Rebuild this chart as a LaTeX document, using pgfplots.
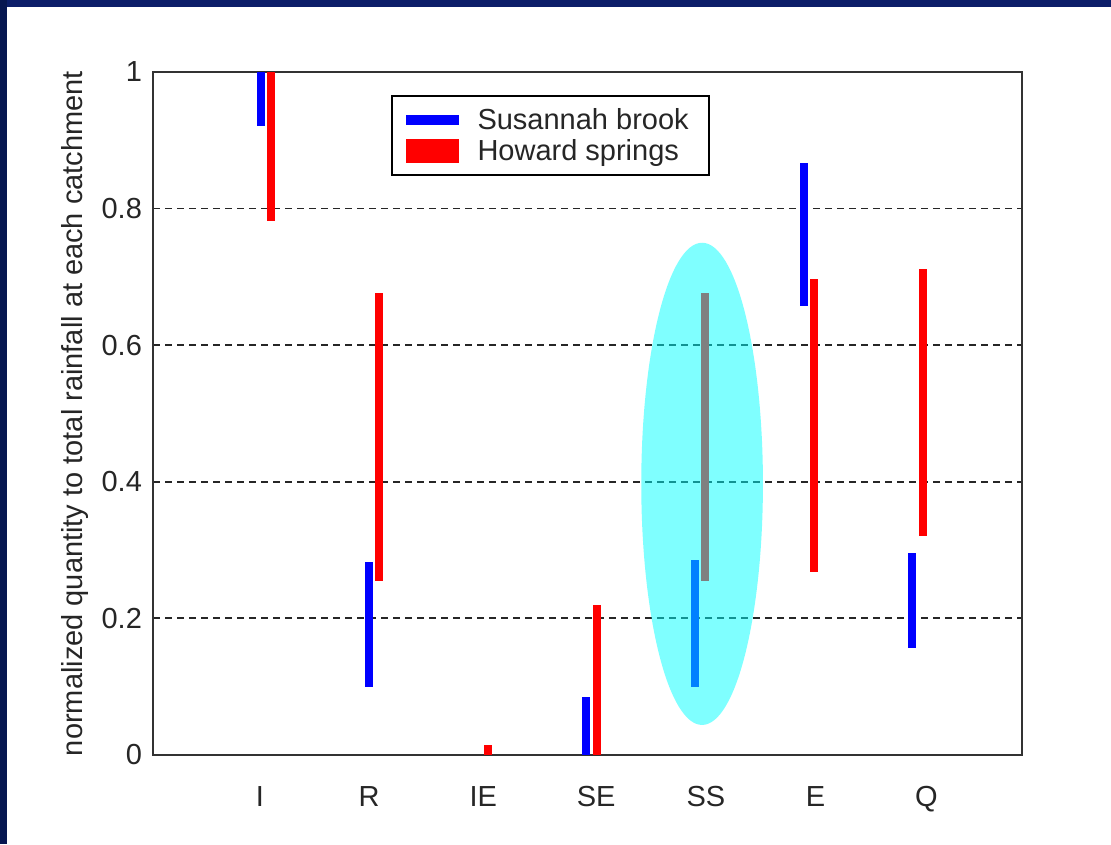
\documentclass[border=0pt]{standalone}
\usepackage{pgfplots}
\pgfplotsset{compat=1.18}
\usepackage{fontspec}
\setmainfont{Liberation Sans}
\definecolor{navyA}{RGB}{12,30,105}
\definecolor{navyB}{RGB}{6,22,80}
\definecolor{axgray}{RGB}{50,50,50}
\definecolor{pcyan}{RGB}{0,255,255}
\definecolor{pblue}{RGB}{0,0,255}
\definecolor{pred}{RGB}{255,0,0}
\begin{document}
\begin{tikzpicture}
\useasboundingbox (-76.5pt,-44.5pt) rectangle (479pt,377.5pt);
\fill[navyB] (-76.5pt,-44.5pt) rectangle (479pt,377.5pt);
\fill[navyA] (-73pt,374pt) rectangle (479pt,377.5pt);
\fill[white] (-73pt,-44.5pt) rectangle (479pt,374pt);
\begin{axis}[
  scale only axis,
  width=434.5pt, height=341.5pt,
  xmin=0, xmax=8, ymin=0, ymax=1,
  xtick={0.985,1.99,3.04,4.08,5.09,6.10,7.12},
  xticklabels={I,R,IE,SE,SS,E,Q},
  ytick={0,0.2,0.4,0.6,0.8,1},
  major tick length=0pt,
  ymajorgrids,
  grid style={black!85, dash pattern=on 3.5pt off 2.5pt, line width=0.9pt},
  axis line style={axgray, line width=1.1pt},
  tick label style={font=\fontsize{14.5}{16}\selectfont, text=black!85},
  /pgf/number format/assume math mode=true,
  xticklabel style={yshift=-12pt},
  yticklabel style={xshift=-2pt},
  every axis y label/.style={at={(axis description cs:0,0.5)}, xshift=-39pt, rotate=90, anchor=center, font=\fontsize{14.5}{16}\selectfont, text=black!85},
  ylabel={normalized quantity to total rainfall at each catchment},
  legend cell align=left,
  legend style={at={(rel axis cs:0.274,0.966)}, anchor=north west, draw=black, line width=0.8pt,
    font=\fontsize{14.5}{16}\selectfont, text=black!85, inner xsep=7pt, inner ysep=3pt,
    row sep=-2.5pt, nodes={inner sep=3pt}},
  unbounded coords=jump,
]
\addlegendimage{legend image code/.code={\fill[pblue] (0pt,-2.25pt) rectangle (25.5pt,2.25pt);}}
\addlegendentry{\hspace{6.5pt}Susannah brook}
\addlegendimage{legend image code/.code={\fill[pred] (0pt,-5.75pt) rectangle (25.5pt,5.75pt);}}
\addlegendentry{\hspace{6.5pt}Howard springs}
% Susannah brook (blue)
\addplot[forget plot, pblue, line width=4pt] coordinates {
(0.99,0.921) (0.99,1.0) (0.99,nan)
(1.99,0.100) (1.99,0.283) (1.99,nan)
(3.99,0.0) (3.99,0.085) (3.99,nan)
(4.99,0.100) (4.99,0.285) (4.99,nan)
(5.99,0.658) (5.99,0.867) (5.99,nan)
(6.99,0.157) (6.99,0.296)
};
% Howard springs (red)
\addplot[forget plot, pred, line width=4pt] coordinates {
(1.085,0.782) (1.085,1.0) (1.085,nan)
(2.085,0.255) (2.085,0.676) (2.085,nan)
(3.085,0.0) (3.085,0.015) (3.085,nan)
(4.085,0.0) (4.085,0.220) (4.085,nan)
(5.085,0.255) (5.085,0.676) (5.085,nan)
(6.085,0.268) (6.085,0.697) (6.085,nan)
(7.085,0.321) (7.085,0.712)
};
\fill[pcyan, opacity=0.5] (axis cs:5.055,0.397) ellipse [x radius=0.56, y radius=0.353];
\end{axis}
\end{tikzpicture}
\end{document}
